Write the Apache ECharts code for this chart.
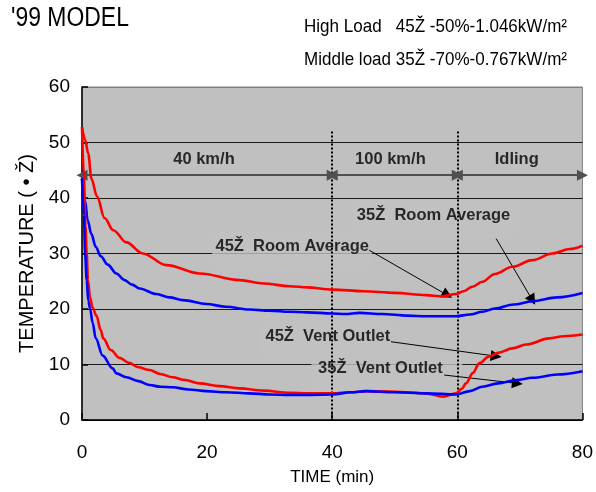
<!DOCTYPE html>
<html><head><meta charset="utf-8">
<script src="https://cdn.jsdelivr.net/npm/echarts@6/dist/echarts.min.js"></script>
<style>html,body{margin:0;padding:0;background:#fff}#c{width:596px;height:492px}</style>
</head><body><div id="c"></div>
<script>
const FONT = '"Liberation Sans", Arial, Helvetica, sans-serif';

// ---- texts ----
const titleText = "'99 MODEL";
const loadLines = ['High Load   45Ž -50%-1.046kW/m²', 'Middle load 35Ž -70%-0.767kW/m²'];
const xName = 'TIME (min)';
const yName = 'TEMPERATURE ( • Ž)';

// ---- axes ----
const xMin = 0, xMax = 80, xStep = 20;
const yMin = 0, yMax = 60, yStep = 10;

// ---- series data (time in min, temperature) ----
const t45Room = [0, 0.5, 1.0, 1.5, 2.4, 3.6, 5.0, 7.1, 9.7, 13.5, 18.8, 25.2, 29, 33.2, 36, 40, 45, 50, 55, 57.6, 59.8, 61, 62.4, 64, 66, 68.8, 72, 75.2, 78, 80];
const v45Room = [52.8, 50.5, 48, 43.5, 40.3, 36.4, 34.2, 32, 30, 27.9, 26.4, 25.2, 24.6, 24.1, 23.9, 23.5, 23.2, 22.9, 22.5, 22.3, 22.7, 23.2, 24.0, 24.9, 26.3, 27.6, 28.8, 30, 30.8, 31.4];

const t35Room = [0, 0.5, 0.9, 1.5, 2.2, 3.0, 4.1, 5.5, 6.8, 8, 9.2, 11.9, 14, 16.1, 19.9, 23, 26.8, 30, 33.2, 36, 40, 42, 44.4, 48, 52, 55, 59.8, 62, 64, 66, 69, 72, 76, 80];
const v35Room = [43.5, 39.5, 36, 33.5, 31.2, 29.5, 28, 26.4, 25.2, 24.4, 23.7, 22.7, 22.1, 21.6, 20.9, 20.4, 19.9, 19.7, 19.5, 19.4, 19.2, 19.1, 19.3, 19.1, 18.8, 18.7, 18.7, 19.0, 19.5, 20.1, 20.8, 21.4, 22.1, 22.9];

const t45Vent = [0, 0.3, 0.55, 0.75, 0.95, 1.3, 1.7, 2.3, 3.0, 3.4, 4.6, 6, 7.5, 9, 10.8, 12.5, 14.5, 16.5, 18.8, 22, 25.2, 29, 33.2, 36, 40, 43, 45.4, 50, 55, 57.7, 59.8, 60.7, 61.4, 62.5, 63.5, 65, 66.5, 68.8, 71, 74.7, 77, 80];
const v45Vent = [52.8, 44, 35, 30, 25.2, 22, 20.2, 18.8, 16.2, 14.7, 12.6, 11.2, 10.3, 9.5, 9.0, 8.3, 7.7, 7.2, 6.6, 6.1, 5.7, 5.3, 4.9, 4.8, 4.8, 5.0, 5.2, 5.1, 4.8, 4.2, 4.8, 5.6, 6.6, 8.5, 10.2, 11.4, 12.1, 12.9, 13.6, 14.7, 15.1, 15.4];

const t35Vent = [0, 0.3, 0.5, 0.75, 1.0, 1.3, 1.7, 2.2, 3.3, 4.9, 5.5, 7.1, 9, 10.8, 12.5, 14.5, 17, 19.9, 23, 26.8, 30, 33.2, 36, 40, 43, 45.4, 50, 55, 59.8, 62, 64, 66.5, 69.4, 72, 76, 80];
const v35Vent = [43.5, 37, 30, 25.2, 21.5, 20, 17.5, 14.7, 11.6, 9.3, 8.4, 7.7, 7.0, 6.3, 6.0, 5.9, 5.5, 5.2, 5.0, 4.8, 4.6, 4.5, 4.5, 4.6, 5.0, 5.2, 5.0, 4.8, 4.6, 5.2, 6.0, 6.6, 7.2, 7.6, 8.2, 8.8];

// ---- annotations (data coordinates) ----
const phaseNames = ['40 km/h', '100 km/h', 'Idling'];
const phaseBounds = [0, 40, 60, 80];
const phaseLabelX = [19.5, 49.3, 69.5];
const phaseLabelY = 47.0;
const phaseArrowY = 44.1;
const dividerTop = 52;

const curveLabels = ['45Ž  Room Average', '35Ž  Room Average', '45Ž  Vent Outlet', '35Ž  Vent Outlet'];
const curveLabelPos = [[33.6, 31.2], [56.2, 36.8], [39.3, 15.0], [47.7, 9.2]];
const leaderFrom = [[45.9, 30.6], [66.2, 32.7], [49.4, 14.1], [57.9, 8.1]];
const leaderTo = [[58.4, 22.5], [72.0, 21.6], [66.2, 11.5], [69.6, 6.6]];

// ---- styling of the label backing boxes (pixels) ----
const boxSize = [[160, 36], [164, 39], [136, 36], [151, 43]];
const boxOffset = [[0, 3], [0, 3.5], [0, 3], [6.5, 7.5]];

const zip = (a, b) => a.map((v, i) => [v, b[i]]);
const PLOT_BG = '#c0c0c0';

const chart = echarts.init(document.getElementById('c'), null, {renderer: 'canvas'});

const curve = (name, color, t, v) => ({
  name, type: 'line', data: zip(t, v), z: 5,
  showSymbol: false, symbol: 'none', smooth: 0.35, smoothMonotone: 'x',
  lineStyle: {color, width: 2.6}, silent: true, animation: false
});

const dividerLines = phaseBounds.slice(1, 3).map(x => [{coord: [x, dividerTop]}, {coord: [x, yMin]}]);
const rangeArrows = phaseNames.map((n, i) => [{coord: [phaseBounds[i], phaseArrowY]}, {coord: [phaseBounds[i + 1], phaseArrowY]}]);
const leaders = leaderFrom.map((p, i) => [{coord: p}, {coord: leaderTo[i]}]);

const option = {
  backgroundColor: '#ffffff',
  animation: false,
  textStyle: {fontFamily: FONT},
  grid: {left: 82, right: 13, top: 87, bottom: 72, show: true, backgroundColor: PLOT_BG, borderColor: '#808080', borderWidth: 1},
  xAxis: {
    type: 'value', min: xMin, max: xMax, interval: xStep,
    name: xName, nameLocation: 'middle', nameGap: 49,
    nameTextStyle: {fontSize: 17, color: '#000', fontFamily: FONT},
    axisLine: {lineStyle: {color: '#000', width: 1.5}},
    axisTick: {inside: true, length: 7, lineStyle: {color: '#000', width: 1.5}},
    axisLabel: {fontSize: 19, color: '#000', margin: 23, fontFamily: FONT},
    splitLine: {show: false}
  },
  yAxis: {
    type: 'value', min: yMin, max: yMax, interval: yStep,
    name: yName, nameLocation: 'middle', nameGap: 33, nameRotate: 90,
    nameTextStyle: {fontSize: 20, color: '#000', fontFamily: FONT},
    axisLine: {lineStyle: {color: '#000', width: 1.5}},
    axisTick: {inside: true, length: 6, lineStyle: {color: '#000', width: 1.5}},
    axisLabel: {fontSize: 19, color: '#000', margin: 12, fontFamily: FONT},
    splitLine: {show: true, lineStyle: {color: ['#000', '#1a1a1a', '#1a1a1a', '#1a1a1a', '#1a1a1a', '#1a1a1a', '#808080'], width: 1}}
  },
  graphic: [
    {type: 'text', x: 11, y: 19, scaleX: 0.85, style: {text: titleText, fontSize: 27, fontFamily: FONT, fill: '#000', verticalAlign: 'middle'}},
    {type: 'text', x: 304, y: 27, scaleX: 0.92, style: {text: loadLines[0], fontSize: 18.5, fontFamily: FONT, fill: '#000', verticalAlign: 'middle'}},
    {type: 'text', x: 304, y: 60, scaleX: 0.92, style: {text: loadLines[1], fontSize: 18.5, fontFamily: FONT, fill: '#000', verticalAlign: 'middle'}}
  ],
  series: [
    {
      name: 'guides', type: 'line', data: [], z: 2, silent: true,
      markLine: {
        silent: true, animation: false, symbol: ['none', 'none'], label: {show: false},
        lineStyle: {color: '#000', width: 2, type: [2, 2]},
        data: dividerLines
      }
    },
    {
      name: 'phases', type: 'line', data: [], z: 2, silent: true,
      markLine: {
        silent: true, animation: false, symbol: ['triangle', 'triangle'], symbolSize: 11, label: {show: false},
        lineStyle: {color: '#505050', width: 2.2, type: 'solid'},
        itemStyle: {color: '#000'},
        data: rangeArrows
      }
    },
    {
      name: 'labelBoxes', type: 'scatter', z: 4, silent: true, symbol: 'rect',
      itemStyle: {color: PLOT_BG},
      data: curveLabelPos.map((p, i) => ({value: p, symbolSize: boxSize[i], symbolOffset: boxOffset[i]}))
    },
    curve('45 Room Average', '#ff0000', t45Room, v45Room),
    curve('35 Room Average', '#0000ff', t35Room, v35Room),
    curve('45 Vent Outlet', '#ff0000', t45Vent, v45Vent),
    curve('35 Vent Outlet', '#0000ff', t35Vent, v35Vent),
    {
      name: 'phaseLabels', type: 'scatter', z: 6, silent: true, symbolSize: 1,
      itemStyle: {color: 'rgba(0,0,0,0)'},
      data: phaseNames.map((n, i) => ({value: [phaseLabelX[i], phaseLabelY], name: n})),
      label: {show: true, position: 'inside', formatter: p => p.name, color: '#000', fontSize: 16.5, fontWeight: 'bold', fontFamily: FONT}
    },
    {
      name: 'curveLabels', type: 'scatter', z: 6, silent: true, symbolSize: 1,
      itemStyle: {color: 'rgba(0,0,0,0)'},
      data: curveLabels.map((n, i) => ({value: curveLabelPos[i], name: n})),
      label: {show: true, position: 'inside', formatter: p => p.name, color: '#000', fontSize: 16.5, fontWeight: 'bold', fontFamily: FONT}
    },
    {
      name: 'leaders', type: 'line', data: [], z: 7, silent: true,
      markLine: {
        silent: true, animation: false, symbol: ['none', 'triangle'], symbolSize: 11, label: {show: false},
        lineStyle: {color: '#000', width: 1, type: 'solid'},
        itemStyle: {color: '#000'},
        data: leaders
      }
    }
  ]
};
chart.setOption(option);
</script>
</body></html>
